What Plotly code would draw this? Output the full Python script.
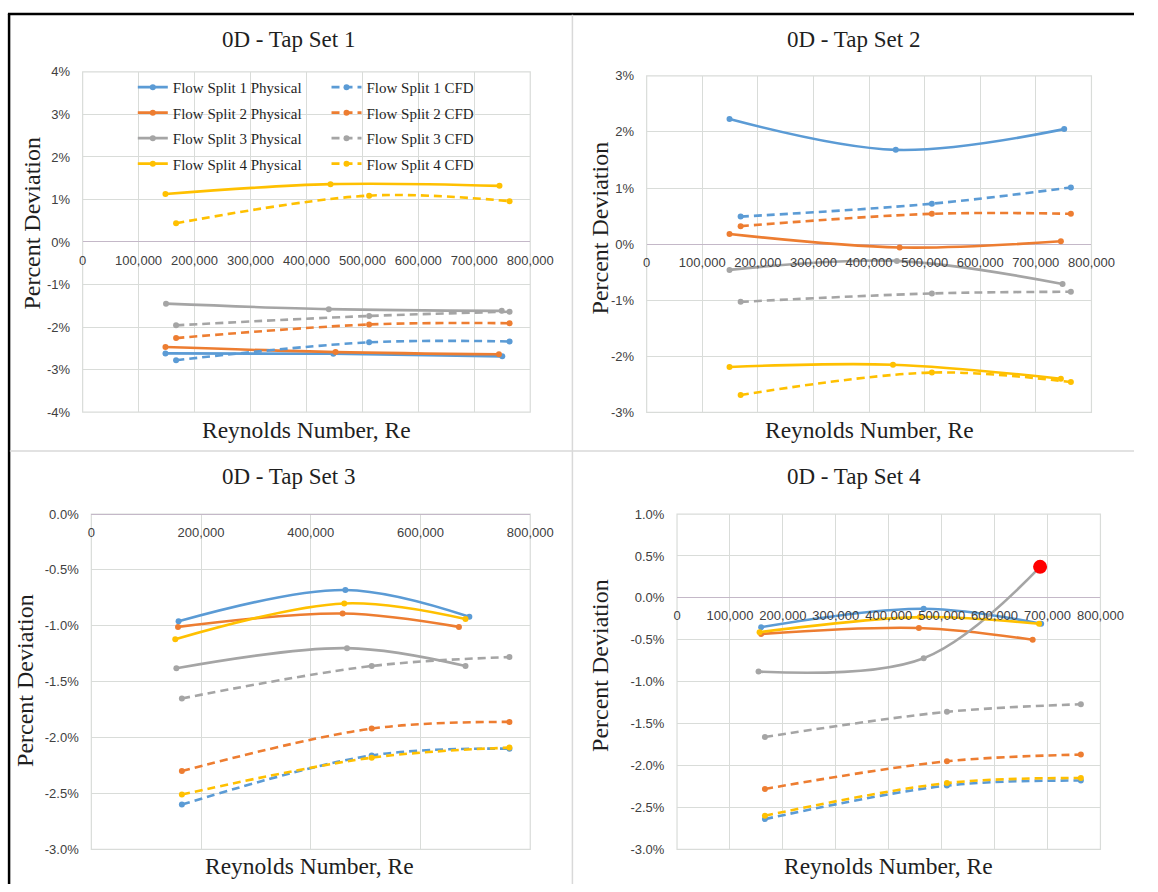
import plotly.graph_objects as go

W, H = 1158, 892

SERIES = ["Flow Split 1", "Flow Split 2", "Flow Split 3", "Flow Split 4"]
COLORS = ["#5B9BD5", "#ED7D31", "#A5A5A5", "#FFC000"]
TITLES = ["0D - Tap Set 1", "0D - Tap Set 2", "0D - Tap Set 3", "0D - Tap Set 4"]
X_TITLE = "Reynolds Number, Re"
Y_TITLE = "Percent Deviation"

# ---- Tap Set 1 ----
TS1_PHYS_RE = [[148000, 448000, 750000], [148000, 452000, 744000],
               [149000, 440000, 749000], [148000, 443000, 745000]]
TS1_PHYS_DEV = [[-2.62, -2.63, -2.69], [-2.47, -2.59, -2.64],
                [-1.45, -1.58, -1.62], [1.13, 1.36, 1.32]]
TS1_CFD_RE = [167000, 512000, 763000]
TS1_CFD_DEV = [[-2.78, -2.36, -2.34], [-2.26, -1.94, -1.91],
               [-1.96, -1.74, -1.64], [0.44, 1.09, 0.96]]

# ---- Tap Set 2 ----
TS2_PHYS_RE = [[149000, 448000, 751000], [149000, 455000, 745000],
               [149000, 450000, 748000], [149000, 443000, 745000]]
TS2_PHYS_DEV = [[2.23, 1.68, 2.05], [0.18, -0.06, 0.05],
                [-0.46, -0.30, -0.71], [-2.19, -2.15, -2.40]]
TS2_CFD_RE = [169000, 513000, 763000]
TS2_CFD_DEV = [[0.49, 0.72, 1.01], [0.32, 0.54, 0.54],
               [-1.03, -0.88, -0.85], [-2.69, -2.29, -2.46]]

# ---- Tap Set 3 ----
TS3_PHYS_RE = [[159000, 463000, 689000], [158000, 458000, 670000],
               [155000, 466000, 682000], [153000, 461000, 682000]]
TS3_PHYS_DEV = [[-0.96, -0.68, -0.92], [-1.01, -0.89, -1.01],
                [-1.38, -1.20, -1.36], [-1.12, -0.80, -0.94]]
TS3_CFD_RE = [165000, 511000, 762000]
TS3_CFD_DEV = [[-2.60, -2.16, -2.10], [-2.30, -1.92, -1.86],
               [-1.65, -1.36, -1.28], [-2.51, -2.18, -2.09]]

# ---- Tap Set 4 ----
TS4_PHYS_RE = [[159000, 466000, 688000], [159000, 457000, 672000],
               [154000, 466000, 686000], [156000, 459000, 684000]]
TS4_PHYS_DEV = [[-0.35, -0.13, -0.31], [-0.43, -0.36, -0.50],
                [-0.88, -0.72, 0.37], [-0.41, -0.23, -0.31]]
TS4_CFD_RE = [166000, 510000, 763000]
TS4_CFD_DEV = [[-2.64, -2.24, -2.18], [-2.28, -1.95, -1.87],
               [-1.66, -1.36, -1.27], [-2.60, -2.21, -2.15]]

# highlighted point: (panel index, series index, point index)
HIGHLIGHT = (3, 2, 2)

# axis ticks
RE_TICKS_100K = [0, 100000, 200000, 300000, 400000, 500000, 600000, 700000, 800000]
RE_TICKS_200K = [0, 200000, 400000, 600000, 800000]
TS1_YTICKS = [-4, -3, -2, -1, 0, 1, 2, 3, 4]
TS2_YTICKS = [-3, -2, -1, 0, 1, 2, 3]
TS3_YTICKS = [-3.0, -2.5, -2.0, -1.5, -1.0, -0.5, 0.0]
TS4_YTICKS = [-3.0, -2.5, -2.0, -1.5, -1.0, -0.5, 0.0, 0.5, 1.0]

PANEL_DATA = [
    (TS1_PHYS_RE, TS1_PHYS_DEV, TS1_CFD_RE, TS1_CFD_DEV, TS1_YTICKS, "{:.0f}%", RE_TICKS_100K),
    (TS2_PHYS_RE, TS2_PHYS_DEV, TS2_CFD_RE, TS2_CFD_DEV, TS2_YTICKS, "{:.0f}%", RE_TICKS_100K),
    (TS3_PHYS_RE, TS3_PHYS_DEV, TS3_CFD_RE, TS3_CFD_DEV, TS3_YTICKS, "{:.1f}%", RE_TICKS_200K),
    (TS4_PHYS_RE, TS4_PHYS_DEV, TS4_CFD_RE, TS4_CFD_DEV, TS4_YTICKS, "{:.1f}%", RE_TICKS_100K),
]

# ---- layout geometry (pixels) ----
PANEL_PX = [(80.6, 539.3, 66.0, 412.0), (658.6, 1114.4, 70.0, 412.3),
            (89.5, 539.3, 515.7, 856.7), (689.7, 1123.6, 515.7, 856.7)]
TITLE_POS = [(292, 33), (871, 33), (292, 478), (871, 478)]
XTITLE_POS = [(310, 430), (887, 430), (313, 874), (906, 874)]
YTITLE_POS = [(29, 220), (611, 225), (22, 685), (611, 670)]

SERIF = "Liberation Serif, Times New Roman, serif"
SANS = "Liberation Sans, Arial, sans-serif"
GRID = "#d9dcd9"
TEXT = "#1f1f1f"
TICKTXT = "#404040"


def px_x(x):
    return x / W


def px_y(y):
    return 1 - y / H


def fmt_pct(fmt, v):
    s = fmt.format(v)
    return s.replace("-0.0%", "0.0%") if s.startswith("-0.0") else s


fig = go.Figure()
layout = dict(width=W, height=H, margin=dict(l=0, r=0, t=0, b=0),
              paper_bgcolor="white", plot_bgcolor="white",
              font=dict(family=SANS, color=TICKTXT))
annotations = []
shapes = []

for p, (phys_re, phys_dev, cfd_re, cfd_dev, yticks, yfmt, xticks) in enumerate(PANEL_DATA):
    sfx = "" if p == 0 else str(p + 1)
    xa, ya = "x" + sfx, "y" + sfx
    x0, x1, y0, y1 = PANEL_PX[p]
    ymin, ymax = yticks[0], yticks[-1]
    ydom = [px_y(y1), px_y(y0)]
    zero_pos = ydom[0] + (0 - ymin) / (ymax - ymin) * (ydom[1] - ydom[0])

    layout["xaxis" + sfx] = dict(
        domain=[px_x(x0), px_x(x1)], range=[0, 800000], anchor="free", position=zero_pos,
        tickmode="array", tickvals=xticks, ticktext=[f"{v:,}" for v in xticks],
        ticks="outside", ticklen=6, tickcolor="rgba(0,0,0,0)",
        showgrid=True, gridcolor=GRID, gridwidth=1, zeroline=False, showline=False,
        tickfont=dict(family=SANS, size=13, color=TICKTXT), fixedrange=True)
    layout["yaxis" + sfx] = dict(
        domain=ydom, range=[ymin, ymax], anchor=xa,
        tickmode="array", tickvals=yticks, ticktext=[fmt_pct(yfmt, v) for v in yticks],
        ticks="outside", ticklen=9, tickcolor="rgba(0,0,0,0)",
        showgrid=True, gridcolor=GRID, gridwidth=1,
        zeroline=True, zerolinecolor="#c4b8c8", zerolinewidth=1, showline=False,
        tickfont=dict(family=SANS, size=13, color=TICKTXT), fixedrange=True)

    # plot-area border
    shapes.append(dict(type="rect", xref=xa + " domain", yref=ya + " domain",
                       x0=0, x1=1, y0=0, y1=1, line=dict(color=GRID, width=1.2),
                       layer="below"))

    for s in range(4):
        fig.add_trace(go.Scatter(
            x=phys_re[s], y=phys_dev[s], xaxis=xa, yaxis=ya,
            mode="lines+markers", line=dict(color=COLORS[s], width=2.6, shape="spline"),
            marker=dict(color=COLORS[s], size=6),
            name=f"{SERIES[s]} Physical", showlegend=(p == 0),
            legend="legend", legendgroup=f"p{s}"))
    for s in range(4):
        fig.add_trace(go.Scatter(
            x=cfd_re, y=cfd_dev[s], xaxis=xa, yaxis=ya,
            mode="lines+markers",
            line=dict(color=COLORS[s], width=2.6, shape="spline", dash="8px,5px"),
            marker=dict(color=COLORS[s], size=6),
            name=f"{SERIES[s]} CFD", showlegend=(p == 0),
            legend="legend2", legendgroup=f"c{s}"))

    if HIGHLIGHT[0] == p:
        hs, hi = HIGHLIGHT[1], HIGHLIGHT[2]
        fig.add_trace(go.Scatter(
            x=[phys_re[hs][hi]], y=[phys_dev[hs][hi]], xaxis=xa, yaxis=ya,
            mode="markers", marker=dict(color="#FF0000", size=14),
            showlegend=False))

    tx, ty = TITLE_POS[p]
    annotations.append(dict(text=TITLES[p], x=px_x(tx), y=px_y(ty), xref="paper", yref="paper",
                            showarrow=False, xanchor="center", yanchor="middle",
                            font=dict(family=SERIF, size=23, color=TEXT)))
    tx, ty = XTITLE_POS[p]
    annotations.append(dict(text=X_TITLE, x=px_x(tx), y=px_y(ty), xref="paper", yref="paper",
                            showarrow=False, xanchor="center", yanchor="middle",
                            font=dict(family=SERIF, size=23.5, color=TEXT)))
    tx, ty = YTITLE_POS[p]
    annotations.append(dict(text=Y_TITLE, x=px_x(tx), y=px_y(ty), xref="paper", yref="paper",
                            showarrow=False, xanchor="center", yanchor="middle", textangle=-90,
                            font=dict(family=SERIF, size=24, color=TEXT)))

# frame: black border top/left, light separators between panels
shapes += [
    dict(type="line", xref="paper", yref="paper", x0=px_x(4), x1=1, y0=px_y(7), y1=px_y(7),
         line=dict(color="black", width=2.5)),
    dict(type="line", xref="paper", yref="paper", x0=px_x(5.2), x1=px_x(5.2), y0=px_y(7), y1=0,
         line=dict(color="black", width=2.5)),
    dict(type="line", xref="paper", yref="paper", x0=px_x(582.5), x1=px_x(582.5), y0=px_y(8), y1=0,
         line=dict(color="#d9d9d9", width=1.5)),
    dict(type="line", xref="paper", yref="paper", x0=px_x(6), x1=1, y0=px_y(451.5), y1=px_y(451.5),
         line=dict(color="#d9d9d9", width=1.5)),
]

legend_common = dict(bgcolor="rgba(0,0,0,0)", borderwidth=0, orientation="v",
                     xanchor="left", yanchor="top", tracegroupgap=3,
                     font=dict(family=SERIF, size=15, color=TEXT), itemwidth=30)
layout["legend"] = dict(legend_common, x=px_x(132), y=px_y(65))
layout["legend2"] = dict(legend_common, x=px_x(330.5), y=px_y(65))
layout["annotations"] = annotations
layout["shapes"] = shapes
layout["showlegend"] = True

fig.update_layout(**layout)
fig.write_html("out.html", config={"displayModeBar": False},
               post_script="document.body.style.margin='0';document.body.style.overflow='hidden';")
